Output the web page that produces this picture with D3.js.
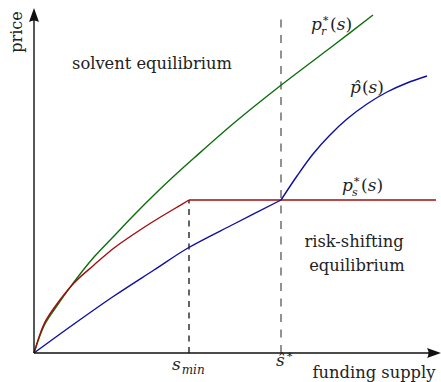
<!DOCTYPE html>
<html>
<head>
<meta charset="utf-8">
<script src="https://cdn.jsdelivr.net/npm/d3@7"></script>
<style>
  body { margin: 0; background: #fff; }
  text { font-family: "DejaVu Serif", serif; fill: #222; }
</style>
</head>
<body>
<svg id="chart" width="441" height="382"></svg>
<script>
// values (s = funding supply, p = price)
var sMin = 1.55, sStar = 2.47, sEnd = 4.02;

var greenS = [0, 0.1, 0.2, 0.4, 0.6, 0.8, 1.0, 1.2, 1.4, 1.6, 2.0, 2.46, 3.0, 3.39];
var greenP = [0, 0.27, 0.43, 0.71, 0.96, 1.17, 1.38, 1.58, 1.77, 1.95, 2.30, 2.67, 3.08, 3.38];

var redS = [0, 0.1, 0.2, 0.4, 0.6, 0.8, 1.0, 1.2, 1.4, 1.55];
var redP = [0, 0.29, 0.45, 0.70, 0.88, 1.05, 1.19, 1.32, 1.44, 1.53];
var redFlatS = [1.55, 4.02];
var redFlatP = [1.53, 1.53];

var blueLowS = [0, 0.4, 0.8, 1.2, 1.54, 2.0, 2.47];
var blueLowP = [0, 0.29, 0.57, 0.83, 1.05, 1.29, 1.53];
var blueHighS = [2.47, 2.63, 2.79, 2.96, 3.13, 3.33, 3.53, 3.73, 3.93];
var blueHighP = [1.53, 1.77, 1.99, 2.18, 2.34, 2.49, 2.61, 2.70, 2.77];

var svg = d3.select("#chart");

var x = d3.scaleLinear().domain([0, 4.07]).range([34, 441]);
var y = d3.scaleLinear().domain([0, 3.45]).range([353, 8]);

function pts(xs, ys) {
  return xs.map(function(s, i) { return [s, ys[i]]; });
}

var line = d3.line()
  .x(function(d) { return x(d[0]); })
  .y(function(d) { return y(d[1]); })
  .curve(d3.curveCatmullRom.alpha(0.5));

// dashed guides
svg.append("line")
  .attr("x1", x(sMin)).attr("x2", x(sMin))
  .attr("y1", y(0)).attr("y2", y(redFlatP[0]))
  .style("stroke", "#111").style("stroke-width", 1.3)
  .style("stroke-dasharray", "6,5.5");

svg.append("line")
  .attr("x1", x(sStar)).attr("x2", x(sStar))
  .attr("y1", y(0)).attr("y2", y(3.38))
  .style("stroke", "#777").style("stroke-width", 1.6)
  .style("stroke-dasharray", "8,7.5");

// curves
var curves = [
  { d: pts(greenS, greenP), c: "#0c6f0c" },
  { d: pts(redS, redP), c: "#a30d0d" },
  { d: pts(redFlatS, redFlatP), c: "#a30d0d" },
  { d: pts(blueLowS, blueLowP), c: "#0e0ea0" },
  { d: pts(blueHighS, blueHighP), c: "#0e0ea0" }
];

svg.selectAll("path.curve")
  .data(curves)
  .join("path")
  .attr("class", "curve")
  .attr("d", function(d) { return line(d.d); })
  .style("fill", "none")
  .style("stroke", function(d) { return d.c; })
  .style("stroke-width", 1.4);

// axes with arrow heads
svg.append("line")
  .attr("x1", x(0)).attr("x2", x(4.0))
  .attr("y1", y(0)).attr("y2", y(0))
  .style("stroke", "#111").style("stroke-width", 1.4);
svg.append("line")
  .attr("x1", x(0)).attr("x2", x(0))
  .attr("y1", y(0)).attr("y2", y(3.38))
  .style("stroke", "#111").style("stroke-width", 1.4);

var ox = x(4.07), oy = y(0);
svg.append("path")
  .attr("d", "M" + ox + "," + oy + " L" + (ox - 14) + "," + (oy - 5) +
             " Q" + (ox - 11) + "," + oy + " " + (ox - 14) + "," + (oy + 5) + " Z")
  .style("fill", "#111");
var tx = x(0), ty = y(3.45);
svg.append("path")
  .attr("d", "M" + tx + "," + ty + " L" + (tx - 5) + "," + (ty + 14) +
             " Q" + tx + "," + (ty + 11) + " " + (tx + 5) + "," + (ty + 14) + " Z")
  .style("fill", "#111");

// plain labels
svg.append("text")
  .attr("transform", "translate(22,32) rotate(-90)")
  .attr("text-anchor", "middle")
  .style("font-size", "16px")
  .text("price");

svg.append("text")
  .attr("x", 374).attr("y", 378)
  .attr("text-anchor", "middle")
  .style("font-size", "16.3px")
  .text("funding supply");

svg.append("text")
  .attr("x", 152).attr("y", 69)
  .attr("text-anchor", "middle")
  .style("font-size", "16.3px")
  .text("solvent equilibrium");

svg.append("text")
  .attr("x", 354).attr("y", 247)
  .attr("text-anchor", "middle")
  .style("font-size", "16.3px")
  .text("risk-shifting");
svg.append("text")
  .attr("x", 357).attr("y", 271)
  .attr("text-anchor", "middle")
  .style("font-size", "16.3px")
  .text("equilibrium");

// math labels built from tspans
function mathText(x0, y0, parts) {
  var t = svg.append("text").attr("x", x0).attr("y", y0);
  parts.forEach(function(p) {
    t.append("tspan")
      .attr("dx", p.dx || 0)
      .attr("dy", p.dy || 0)
      .style("font-size", (p.size || 17) + "px")
      .style("font-style", p.it ? "italic" : "normal")
      .text(p.t);
  });
  return t;
}

function subSup(x0, y0, sub) {
  mathText(x0, y0, [{ t: "p", it: true }]);
  mathText(x0 + 11, y0 - 8, [{ t: "\u2217", size: 11 }]);
  mathText(x0 + 10, y0 + 5, [{ t: sub, it: true, size: 11 }]);
  mathText(x0 + 19, y0, [
    { t: "(" },
    { t: "s", it: true },
    { t: ")" }
  ]);
}

subSup(311, 30, "r");
subSup(342, 191, "s");

mathText(350, 93, [
  { t: "p\u0302", it: true },
  { t: "(", dx: 1 },
  { t: "s", it: true },
  { t: ")" }
]);

mathText(x(sMin) - 17, 370, [
  { t: "s", it: true },
  { t: "min", it: true, size: 12, dy: 4, dx: 1 }
]);

mathText(x(sStar) - 5, 366, [{ t: "\u015d", it: true }]);
mathText(x(sStar) + 5, 358, [{ t: "\u2217", size: 11 }]);
</script>
</body>
</html>
